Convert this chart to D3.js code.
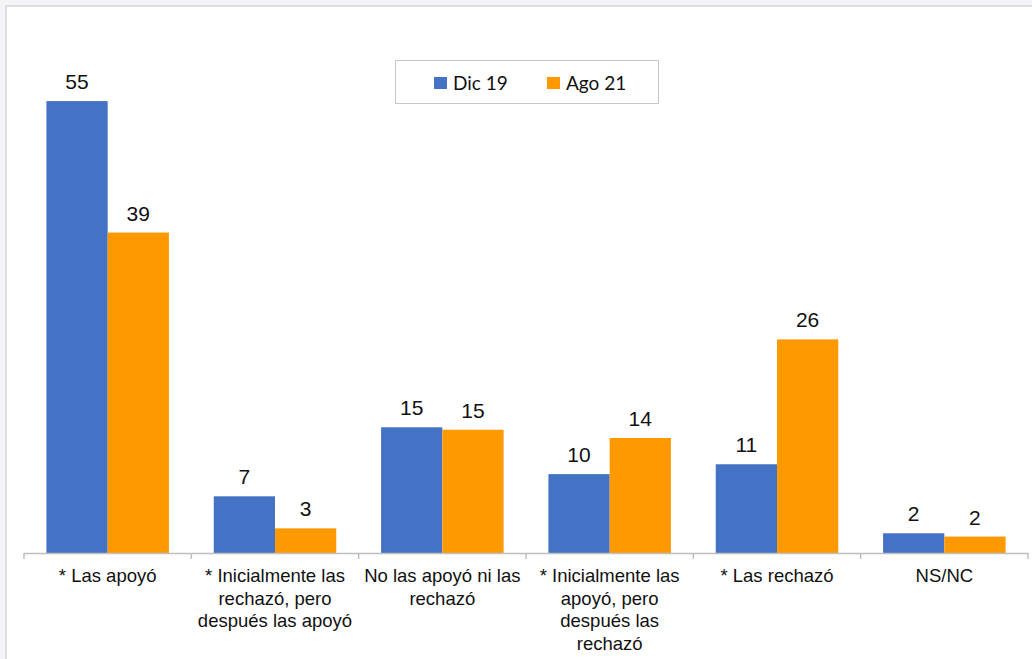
<!DOCTYPE html>
<html><head><meta charset="utf-8">
<script src="https://cdn.jsdelivr.net/npm/d3@7"></script>
<style>
html,body{margin:0;padding:0;background:#f3f4f8;}
svg{display:block;}
</style></head>
<body>
<svg id="chart" width="1032" height="659"></svg>
<script>
const categories = [
  ["* Las apoyó"],
  ["* Inicialmente las", "rechazó, pero", "después las apoyó"],
  ["No las apoyó ni las", "rechazó"],
  ["* Inicialmente las", "apoyó, pero", "después las", "rechazó"],
  ["* Las rechazó"],
  ["NS/NC"]
];
const seriesNames = ["Dic 19", "Ago 21"];
const dic19 = [55, 6.9, 15.3, 9.6, 10.8, 2.4];
const ago21 = [39, 3, 15, 14, 26, 2];
const colors = ["#4472c4", "#ff9900"];

const svg = d3.select("#chart");
// page frame
svg.append("rect").attr("x",0).attr("y",0).attr("width",1032).attr("height",659).attr("fill","#f3f4f8");
svg.append("rect").attr("x",6).attr("y",6).attr("width",1040).attr("height",670)
  .attr("fill","#ffffff").attr("stroke","#dedede").attr("stroke-width",2);

const idx = d3.range(categories.length);
const x0 = d3.scaleBand().domain(idx).range([24, 1028]).paddingInner(0.268).paddingOuter(0.134);
const x1 = d3.scaleBand().domain([0,1]).range([0, x0.bandwidth()]);
const y = d3.scaleLinear().domain([0, 60]).range([553, 60]);

const series = [dic19, ago21];
const g = svg.append("g");
series.forEach((vals, s) => {
  g.selectAll(".bar"+s).data(idx).enter().append("rect")
    .attr("x", i => x0(i) + x1(s))
    .attr("y", i => y(vals[i]))
    .attr("width", x1.bandwidth())
    .attr("height", i => y(0) - y(vals[i]))
    .attr("fill", colors[s]);
  g.selectAll(".lab"+s).data(idx).enter().append("text")
    .attr("x", i => x0(i) + x1(s) + x1.bandwidth()/2)
    .attr("y", i => y(vals[i]) - 12)
    .attr("text-anchor","middle")
    .attr("font-family","Liberation Sans, Arial, sans-serif")
    .attr("font-size", 21)
    .attr("fill","#111")
    .text(i => d3.format(".0f")(vals[i]));
});

// axis
const step = x0.step();
const ax = svg.append("g");
ax.append("line").attr("x1", 24).attr("x2", 1028).attr("y1", y(0)+0.5).attr("y2", y(0)+0.5)
  .attr("stroke","#bfbfbf").attr("stroke-width",1.5);
const boundaries = d3.range(categories.length + 1).map(i => 24 + i*step);
ax.selectAll(".tk").data(boundaries).enter().append("line")
  .attr("x1", d => d).attr("x2", d => d).attr("y1", y(0)).attr("y2", y(0)+6)
  .attr("stroke","#bfbfbf").attr("stroke-width",1.5);

const lab = svg.append("g");
categories.forEach((lines, i) => {
  const t = lab.append("text")
    .attr("text-anchor","middle")
    .attr("font-family","Liberation Sans, Arial, sans-serif")
    .attr("font-size", 18.5)
    .attr("fill","#111");
  lines.forEach((ln, k) => {
    t.append("tspan").attr("x", x0(i) + x0.bandwidth()/2).attr("y", 582 + k*22.5).text(ln);
  });
});

// legend
const leg = svg.append("g");
leg.append("rect").attr("x",395.5).attr("y",60.5).attr("width",263).attr("height",43)
  .attr("fill","#fff").attr("stroke","#c8c8c8").attr("stroke-width",1);
const legX = [434, 547];
seriesNames.forEach((n, s) => {
  leg.append("rect").attr("x", legX[s]).attr("y", 77).attr("width",13).attr("height",12).attr("fill", colors[s]);
  leg.append("text").attr("x", legX[s] + 19).attr("y", 89.5)
    .attr("font-family","Lato, Carlito, Calibri, sans-serif").attr("font-size",19).attr("fill","#111").text(n);
});
</script>
</body></html>
